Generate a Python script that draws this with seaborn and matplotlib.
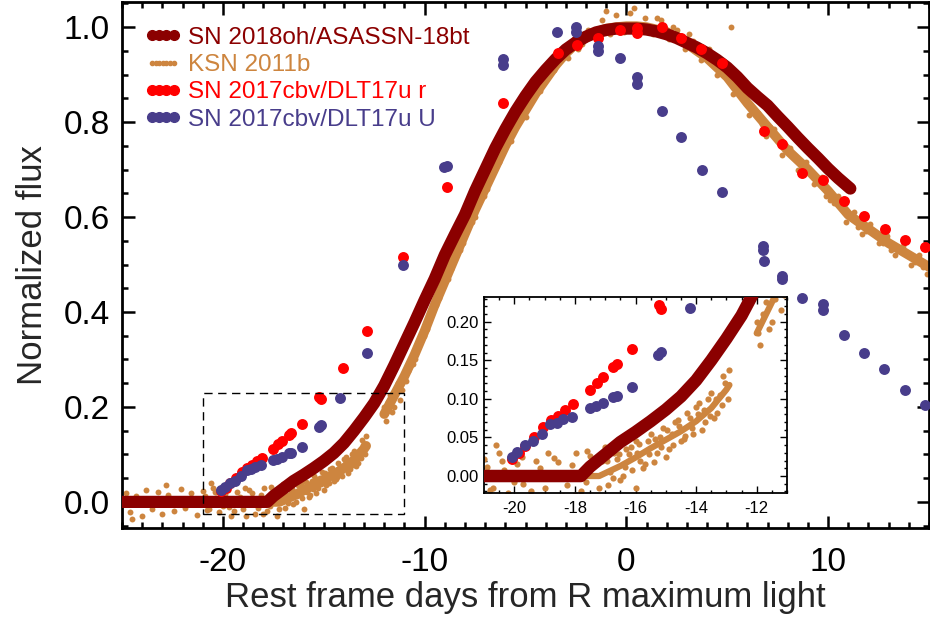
import matplotlib
matplotlib.use('Agg')

import matplotlib.pyplot as plt
import seaborn as sns
import pandas as pd
from matplotlib.lines import Line2D
from matplotlib.patches import Rectangle
from matplotlib.legend_handler import HandlerLine2D
from matplotlib.ticker import MultipleLocator

# SN 2018oh / ASASSN-18bt (dense light curve, read along its centre)
sn18_x = [-25.0, -17.8, -17.5, -17.0, -16.5, -16.0, -15.5, -15.0, -14.5, -14.0, -13.5, -13.0,
          -12.5, -12.0, -11.5, -11.0, -10.5, -10.0, -9.5, -9.0, -8.5, -8.0, -7.5, -7.0, -6.5,
          -6.0, -5.5, -5.0, -4.5, -4.0, -3.5, -3.0, -2.5, -2.0, -1.5, -1.0, -0.5, 0.0, 0.5,
          1.0, 1.5, 2.0, 2.5, 3.0, 3.5, 4.0, 4.5, 5.0, 5.5, 6.0, 6.5, 7.0, 7.5, 8.0, 8.5,
          9.0, 9.5, 10.0, 10.5, 11.1]
sn18_y = [0.0, 0.0, 0.012, 0.028, 0.044, 0.057, 0.071, 0.086, 0.103, 0.124, 0.150, 0.178,
          0.208, 0.245, 0.288, 0.333, 0.378, 0.425, 0.470, 0.520, 0.563, 0.605, 0.655, 0.700,
          0.745, 0.785, 0.822, 0.855, 0.885, 0.910, 0.933, 0.953, 0.968, 0.980, 0.989, 0.994,
          0.997, 0.997, 0.997, 0.995, 0.991, 0.985, 0.977, 0.967, 0.957, 0.945, 0.931, 0.915,
          0.895, 0.872, 0.853, 0.835, 0.812, 0.790, 0.767, 0.745, 0.724, 0.702, 0.682, 0.660]

# KSN 2011b: centre of the band (two stretches, gap near -12.5 d) ...
ksn_x = [-25.0, -17.2, -16.5, -16.0, -15.5, -15.0, -14.5, -14.0, -13.5, -13.0, -12.9,
         -12.0, -11.5, -11.0, -10.5, -10.0, -9.5, -9.0, -8.5, -8.0, -7.5, -7.0, -6.5, -6.0,
         -5.5, -5.0, -4.5, -4.0, -3.5, -3.0, -2.5, -2.0, -1.5, -1.0, -0.5, 0.0, 0.5, 1.0,
         1.5, 2.0, 3.0, 4.0, 5.0, 6.0, 7.0, 8.0, 9.0, 10.0, 11.0, 12.0, 13.0, 14.0, 15.0]
ksn_y = [0.0, 0.0, 0.013, 0.024, 0.036, 0.047, 0.058, 0.071, 0.088, 0.112, 0.118,
         0.185, 0.225, 0.265, 0.310, 0.360, 0.415, 0.465, 0.515, 0.565, 0.615, 0.660, 0.705,
         0.750, 0.790, 0.825, 0.860, 0.890, 0.920, 0.945, 0.965, 0.978, 0.990, 0.997, 1.000,
         1.002, 1.002, 1.000, 0.995, 0.990, 0.965, 0.935, 0.895, 0.840, 0.790, 0.740, 0.700,
         0.655, 0.605, 0.575, 0.545, 0.520, 0.495]
ksn_seg = [0] * 11 + [1] * 42

# ... and individual points scattered around it
ksn_pts_x = [-24.8, -24.6, -24.5, -24.3, -24.0, -23.8, -23.5, -23.2, -23.0, -22.8, -22.7,
             -22.4, -22.1, -21.9, -21.6, -21.3, -21.0, -20.8, -20.6, -20.5, -20.2, -19.9,
             -19.6, -19.3, -19.0, -18.7, -18.4, -18.1, -17.8, -17.5, -17.3, -17.1, -16.9,
             -16.7, -16.5, -16.3, -16.1, -15.9, -15.7, -15.5, -15.3, -15.1, -14.9, -14.7,
             -14.5, -14.3, -14.1, -13.9, -13.7, -13.5, -13.3, -13.1, -12.95,
             -20.9, -20.7, -20.35, -20.0, -19.75, -19.45, -19.15, -18.85, -18.55, -18.25,
             -17.95, -17.65, -17.4, -17.2, -17.0, -16.85, -16.6, -16.4, -16.2, -16.0, -16.0,
             -15.85, -15.6, -15.4, -15.2, -15.0, -14.8, -14.6, -14.4, -14.2, -14.0, -13.8,
             -13.6, -13.4, -13.2, -13.05, -12.9,
             -12.0, -11.95, -11.9, -11.8, -11.7, -11.6, -11.5, -11.4, -11.3, -11.2, -11.1,
             -10.9, -10.8, -10.6, -10.5, -10.35, -10.2, -10.05, -9.9, -9.75, -9.6, -9.45,
             -9.3, -9.15, -9.0, -8.85, -8.7, -8.55, -8.4, -8.25, -8.1, -7.95, -7.8, -7.65,
             -7.5, -7.35, -7.2, -7.05, -6.9, -6.75, -6.6, -6.3, -6.0, -5.7,
             -5.4, -5.0, -4.7, -4.3, -4.0, -3.6, -3.3, -2.9, -2.6, -2.4, -2.2, -1.9, -1.5,
             -1.2, -1.0, -0.8, -0.5, -0.1, 0.2, 0.4, 0.6, 0.9, 1.3, 1.5, 1.7, 2.1, 2.3, 2.5,
             2.9, 3.1, 3.3, 3.7, 3.9, 4.1, 4.5, 4.9, 5.2, 5.3, 5.5, 5.7, 6.1, 6.3, 6.5, 6.7,
             6.9, 7.1, 7.3, 7.7, 7.9, 8.1, 8.3, 8.5, 8.7, 8.9, 9.3, 9.5, 9.7, 9.9, 10.1,
             10.3, 10.5, 10.9, 11.1, 11.3, 11.5, 11.7, 11.9, 12.1, 12.5, 12.7, 12.9, 13.1,
             13.3, 13.5, 13.7, 14.1, 14.3, 14.5, 14.7, 14.9,
             -16.95, -16.75, -16.55, -16.35, -16.15, -15.95, -15.75, -15.55, -15.35, -15.15,
             -14.95, -14.75, -14.55, -14.35, -14.15, -13.95, -13.75, -13.55, -13.35, -13.15,
             -18.9, -18.0, -19.7, -20.4, -17.6]
ksn_pts_y = [0.018, -0.022, -0.036, 0.012, -0.030, 0.025, -0.015, 0.020, -0.025, 0.035, 0.015,
             -0.020, 0.028, -0.012, 0.018, -0.028, 0.022, -0.018, 0.040, 0.030, -0.022, 0.016,
             -0.030, 0.020, -0.016, 0.024, -0.026, 0.014, -0.020, 0.026, -0.030, 0.020, -0.012,
             0.030, -0.005, 0.035, 0.008, 0.042, 0.015, 0.055, 0.030, 0.062, 0.035, 0.070,
             0.045, 0.082, 0.055, 0.095, 0.070, 0.108, 0.082, 0.130, 0.100,
             0.012, -0.015, 0.008, -0.008, 0.025, -0.020, 0.010, -0.030, 0.018, -0.012,
             0.030, -0.008, 0.012, -0.015, 0.038, 0.005, 0.022, 0.000, 0.028, 0.045, -0.015,
             0.020, 0.045, 0.018, 0.050, 0.025, 0.055, 0.072, 0.048, 0.075, 0.090, 0.060,
             0.100, 0.075, 0.105, 0.120, 0.138,
             0.200, 0.185, 0.170, 0.210, 0.225, 0.190, 0.200, 0.230, 0.250, 0.215, 0.235,
             0.255, 0.275, 0.290, 0.300, 0.325, 0.345, 0.350, 0.365, 0.390, 0.410, 0.415,
             0.430, 0.455, 0.480, 0.470, 0.490, 0.515, 0.535, 0.530, 0.545, 0.570, 0.600,
             0.590, 0.600, 0.630, 0.655, 0.645, 0.660, 0.690, 0.710, 0.715, 0.760, 0.760,
             0.805, 0.810, 0.855, 0.865, 0.900, 0.910, 0.940, 0.935, 0.975, 0.955, 0.965,
             0.995, 0.980, 1.015, 1.035, 0.985, 1.025, 0.990, 1.030, 1.040, 0.990, 1.020,
             0.985, 1.020, 1.015, 0.975, 1.000, 0.995, 0.955, 0.985, 0.970, 0.930, 0.940,
             0.955, 0.900, 0.915, 1.000, 0.860, 0.875, 0.870, 0.815, 0.830, 0.820, 0.795,
             0.770, 0.790, 0.785, 0.730, 0.745, 0.745, 0.725, 0.700, 0.700, 0.715, 0.670,
             0.675, 0.685, 0.645, 0.635, 0.630, 0.645, 0.590, 0.600, 0.610, 0.580, 0.565,
             0.570, 0.585, 0.545, 0.545, 0.560, 0.530, 0.520, 0.530, 0.540, 0.500, 0.505,
             0.520, 0.495, 0.480,
             0.020, -0.002, 0.028, 0.012, 0.038, 0.030, 0.010, 0.028, 0.048, 0.038,
             0.060, 0.040, 0.065, 0.052, 0.062, 0.080, 0.085, 0.078, 0.100, 0.092,
             0.030, -0.025, -0.010, 0.020, 0.032]

# SN 2017cbv / DLT17u, r band
cbv_r_x = [-20.08, -19.85, -19.65, -19.35, -19.05, -18.8, -18.56, -18.33, -18.06, -17.5,
           -17.27, -17.07, -16.74, -16.6, -16.1, -15.22, -15.15, -14.05, -12.86, -11.08,
           -8.9, -6.1, -3.4, -2.46, -1.43, -0.3, 0.54, 0.54, 1.77, 2.7, 3.7, 4.73, 6.8,
           7.73, 8.72, 9.75, 10.8, 11.8, 12.8, 13.8, 14.8]
cbv_r_y = [0.022, 0.030, 0.039, 0.050, 0.063, 0.072, 0.078, 0.086, 0.093, 0.112,
           0.121, 0.128, 0.141, 0.145, 0.165, 0.221, 0.217, 0.282, 0.360, 0.516,
           0.663, 0.840, 0.945, 0.962, 0.977, 0.994, 0.998, 0.988, 1.000, 0.977, 0.954,
           0.924, 0.781, 0.754, 0.693, 0.678, 0.633, 0.602, 0.575, 0.552, 0.537]

# SN 2017cbv / DLT17u, U band
cbv_u_x = [-20.08, -19.9, -19.65, -19.38, -19.1, -18.82, -18.6, -18.4, -18.1, -17.5, -17.3,
           -17.07, -16.74, -16.6, -16.1, -15.25, -15.15, -14.2, -12.86, -11.08, -9.06, -8.9,
           -6.1, -6.1, -3.45, -2.5, -2.48, -1.43, -1.43, -0.3, 0.54, 0.54, 1.77, 2.7, 3.74,
           4.73, 6.75, 6.75, 6.8, 7.73, 7.73, 8.72, 9.75, 9.75, 10.8, 11.8, 12.76, 13.8, 14.8]
cbv_u_y = [0.025, 0.031, 0.040, 0.045, 0.054, 0.067, 0.069, 0.074, 0.077, 0.088, 0.091,
           0.094, 0.102, 0.104, 0.116, 0.157, 0.161, 0.218, 0.313, 0.500, 0.705, 0.707,
           0.920, 0.932, 0.990, 0.990, 1.000, 0.960, 0.950, 0.935, 0.895, 0.880, 0.823,
           0.768, 0.700, 0.653, 0.540, 0.530, 0.507, 0.476, 0.470, 0.430, 0.417, 0.405,
           0.352, 0.313, 0.280, 0.236, 0.204]

labels = ["SN 2018oh/ASASSN-18bt", "KSN 2011b", "SN 2017cbv/DLT17u r", "SN 2017cbv/DLT17u U"]
c_18oh, c_ksn, c_r, c_u = "#8b0000", "#cd853f", "#ff0000", "#483d8b"

sn18 = pd.DataFrame({"x": sn18_x, "y": sn18_y})
ksn = pd.DataFrame({"x": ksn_x, "y": ksn_y, "seg": ksn_seg})
ksn_pts = pd.DataFrame({"x": ksn_pts_x, "y": ksn_pts_y})
cbv_r = pd.DataFrame({"x": cbv_r_x, "y": cbv_r_y})
cbv_u = pd.DataFrame({"x": cbv_u_x, "y": cbv_u_y})

sns.set_style("ticks")
plt.rcParams["font.family"] = ["Liberation Sans", "DejaVu Sans"]
plt.rcParams["axes.unicode_minus"] = False


def draw_curves(ax, lw_red, lw_ksn, s_pt, s_big):
    sns.lineplot(data=ksn, x="x", y="y", units="seg", estimator=None, sort=False,
                 color=c_ksn, lw=lw_ksn, ax=ax, zorder=2)
    sns.scatterplot(data=ksn_pts, x="x", y="y", color=c_ksn, s=s_pt, linewidth=0,
                    ax=ax, zorder=2)
    sns.lineplot(data=sn18, x="x", y="y", estimator=None, sort=False, color=c_18oh,
                 lw=lw_red, solid_capstyle="round", ax=ax, zorder=3)
    sns.scatterplot(data=cbv_r, x="x", y="y", color=c_r, s=s_big, linewidth=0, ax=ax, zorder=4)
    sns.scatterplot(data=cbv_u, x="x", y="y", color=c_u, s=s_big, linewidth=0, ax=ax, zorder=5)
    ax.set_xlabel("")
    ax.set_ylabel("")


fig = plt.figure(figsize=(9.3, 6.19), dpi=100)
ax = fig.add_axes([122 / 930, 1 - 528 / 619, 807 / 930, 526 / 619])
draw_curves(ax, 8.8, 7, 18, 62)

ax.set_xlim(-25, 15)
ax.set_ylim(-0.055, 1.053)
ax.xaxis.set_major_locator(MultipleLocator(10))
ax.xaxis.set_minor_locator(MultipleLocator(1))
ax.yaxis.set_major_locator(MultipleLocator(0.2))
ax.yaxis.set_minor_locator(MultipleLocator(0.05))
ax.yaxis.set_major_formatter(plt.FormatStrFormatter("%.1f"))
ax.tick_params(which="both", direction="in", top=True, right=True, width=1.8, colors="black")
ax.tick_params(which="major", length=9, labelsize=24)
ax.tick_params(which="minor", length=4.5)
ax.tick_params(axis="x", which="major", pad=14)
ax.tick_params(axis="y", which="major", pad=9)
for sp in ax.spines.values():
    sp.set_linewidth(2)
    sp.set_color("black")
ax.set_xlabel("Rest frame days from R maximum light", fontsize=25, labelpad=2)
ax.set_ylabel("Normalized flux", fontsize=25, labelpad=10)

# dashed box showing the zoomed region
ax.add_patch(Rectangle((-21, -0.025), 10, 0.255, fill=False, ls=(0, (6, 4)), lw=1,
                       ec="black", zorder=6))

handles = [Line2D([], [], ls="none", marker="o", ms=7, color=c_18oh),
           Line2D([], [], ls="none", marker="o", ms=3, color=c_ksn),
           Line2D([], [], ls="none", marker="o", ms=7, color=c_r),
           Line2D([], [], ls="none", marker="o", ms=7, color=c_u)]
hmap = {handles[0]: HandlerLine2D(numpoints=4), handles[1]: HandlerLine2D(numpoints=7),
        handles[2]: HandlerLine2D(numpoints=4), handles[3]: HandlerLine2D(numpoints=4)}
ax.legend(handles, labels, handler_map=hmap, loc="upper left", bbox_to_anchor=(0.028, 0.953),
          frameon=False, fontsize=17.5, handlelength=1.5, handletextpad=0.3, labelspacing=0.22,
          borderpad=0, borderaxespad=0, labelcolor=[c_18oh, c_ksn, c_r, c_u])

# inset
axi = fig.add_axes([484 / 930, 1 - 493 / 619, 303 / 930, 196 / 619])
draw_curves(axi, 9, 4.5, 20, 62)
axi.set_xlim(-21, -11)
axi.set_ylim(-0.022, 0.232)
axi.xaxis.set_major_locator(MultipleLocator(2))
axi.xaxis.set_minor_locator(MultipleLocator(0.5))
axi.yaxis.set_major_locator(MultipleLocator(0.05))
axi.yaxis.set_minor_locator(MultipleLocator(0.01))
axi.yaxis.set_major_formatter(plt.FormatStrFormatter("%.2f"))
axi.tick_params(which="both", direction="in", top=True, right=True, width=1, colors="black")
axi.tick_params(which="major", length=5, labelsize=12)
axi.tick_params(which="minor", length=2.5)
axi.tick_params(axis="x", pad=6)
axi.tick_params(axis="y", pad=4)
for sp in axi.spines.values():
    sp.set_linewidth(1.3)
    sp.set_color("black")

fig.savefig("out.png", dpi=100, facecolor="white")
